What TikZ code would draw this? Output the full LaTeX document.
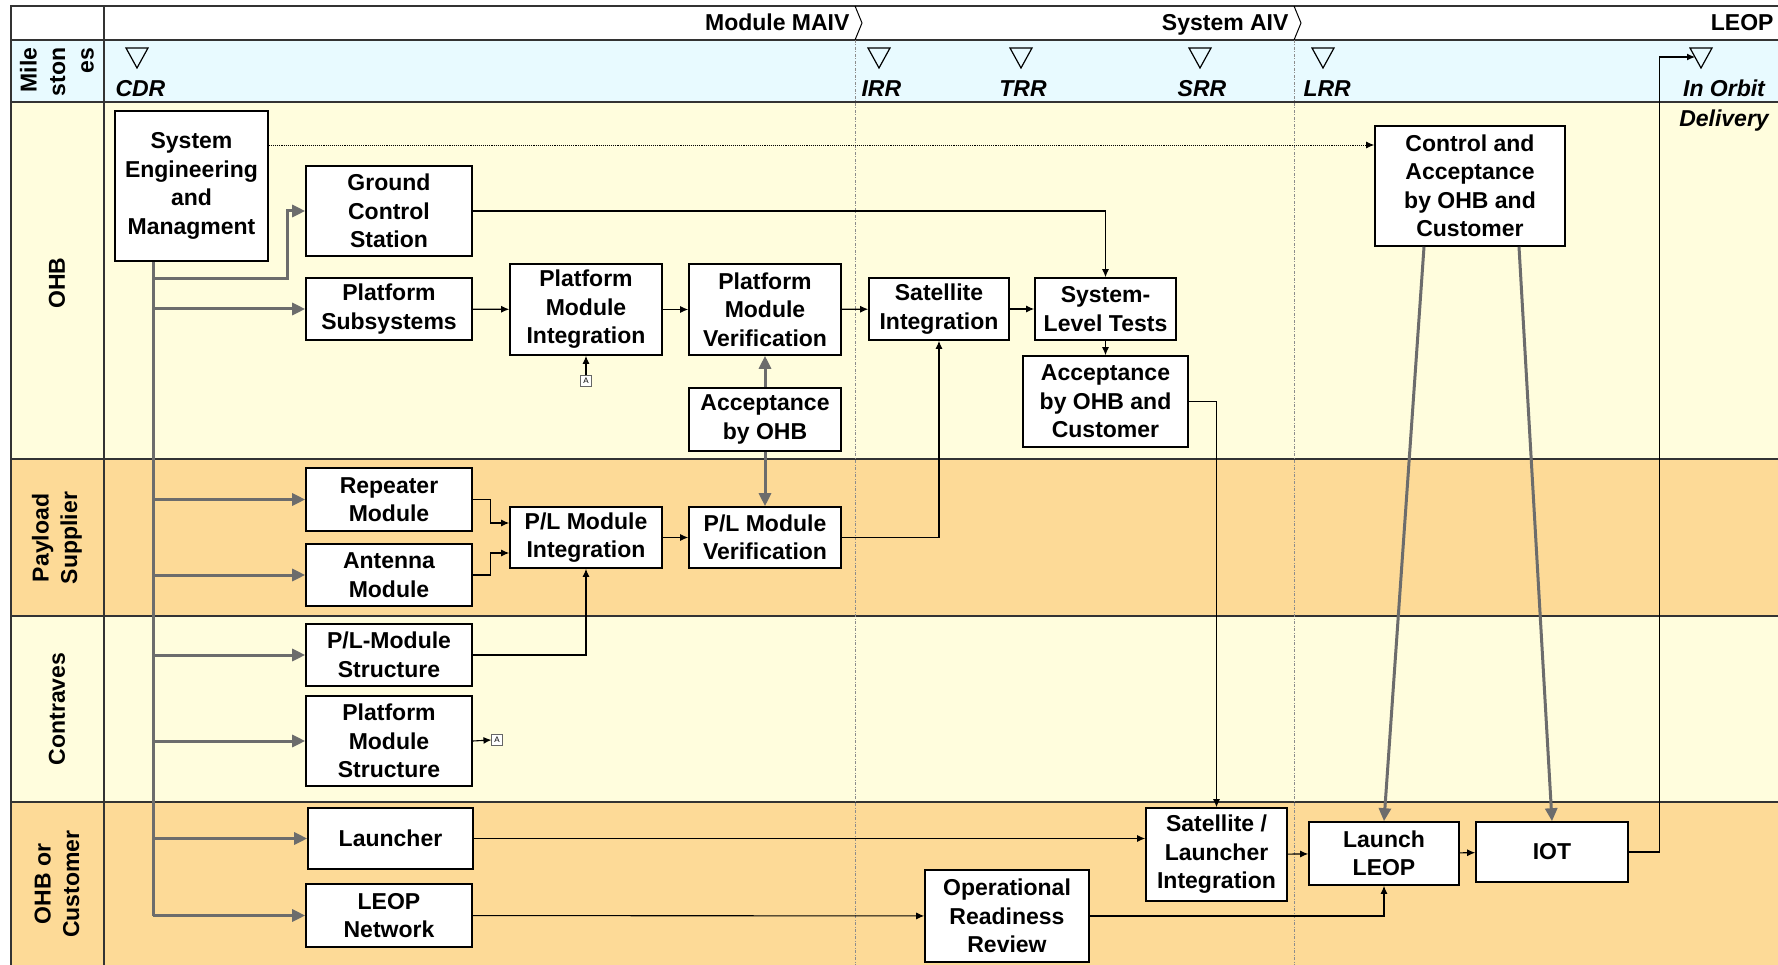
\documentclass[tikz,border=0pt]{standalone}
\usepackage{fontspec}
\setmainfont{Liberation Sans}
\usetikzlibrary{arrows.meta,calc}
\definecolor{laneyellow}{RGB}{255,253,221}
\definecolor{laneorange}{RGB}{253,218,151}
\definecolor{milecyan}{RGB}{232,250,255}
\definecolor{feedgray}{RGB}{108,108,108}
\tikzset{
  task/.style={draw=black, line width=1.6pt, fill=white, align=center, inner sep=0pt},
  sz/.style 2 args={minimum width=#1pt, minimum height=#2pt},
  flow/.style={-{Latex[length=8pt,width=7pt]}, line width=1.1pt},
  feed/.style={-{Triangle[length=13pt,width=12pt]}, line width=3pt, draw=feedgray},
  frame/.style={line width=1.5pt, draw=black!80},
  mstone/.style={font=\fontsize{23}{28.5}\selectfont\bfseries\itshape},
  refbox/.style={draw=black!60, fill=white, line width=0.8pt, inner sep=2.5pt, font=\fontsize{8}{8}\selectfont}
}
\begin{document}
\begin{tikzpicture}[x=1pt, y=-1pt, font=\fontsize{23}{28.5}\selectfont\bfseries]
\useasboundingbox (0,0) rectangle (1778,965);
%Lanes
\fill[white] (11,6) rectangle (1778,40);
\fill[milecyan] (11,40) rectangle (1778,102);
\fill[laneyellow] (11,102) rectangle (1778,459);
\fill[laneorange] (11,459) rectangle (1778,616);
\fill[laneyellow] (11,616) rectangle (1778,802);
\fill[laneorange] (11,802) rectangle (1778,965);
\draw[frame] (11,965) -- (11,6) -- (1778,6);
\foreach \y in {40,102,459,616,802} \draw[frame] (11,\y) -- (1778,\y);
\draw[frame] (104,6) -- (104,965);
\foreach \x in {855,1294} {
  \draw[black!45, line width=0.8pt, dash pattern=on 3pt off 1.5pt on 1pt off 1.5pt] (\x,40) -- (\x,965);
  \draw[line width=1pt] (\x,6) -- (\x+7,23) -- (\x,40);
}
%Phases
\node[anchor=base east] (maiv) at (853,31) {Module MAIV};
\node[anchor=base east] (aiv) at (1292,31) {System AIV};
\node[anchor=base east] (leoph) at (1777,31) {LEOP};
%Lane names
\node[rotate=90, align=right] (lmile) at (57,72) {Mile\\ston\\es};
\node[rotate=90] (lohb) at (57,283) {OHB};
\node[rotate=90, align=center] (lpay) at (57,538) {Payload\\Supplier};
\node[rotate=90] (lcon) at (57,709) {Contraves};
\node[rotate=90, align=center] (lcus) at (57,884) {OHB or\\Customer};
%Milestones
\foreach \x/\n in {137/cdr,879/irr,1021/trr,1200/srr,1323/lrr,1701/iod} {
  \coordinate (m-\n) at (\x,48);
  \draw[line width=1.2pt] (\x-11,48) -- (\x+11,48) -- (\x,68) -- cycle;
}
\node[mstone, anchor=base west] (tcdr) at (112,97) {CDR};
\node[mstone, anchor=base west] (tirr) at (858,97) {IRR};
\node[mstone, anchor=base] (ttrr) at (1023,97) {TRR};
\node[mstone, anchor=base] (tsrr) at (1202,97) {SRR};
\node[mstone, anchor=base west] (tlrr) at (1300,97) {LRR};
\node[mstone, anchor=base] (tiorb) at (1724,97) {In Orbit};
\node[mstone, anchor=base] (tidel) at (1724,127) {Delivery};
%Tasks
\node[task, sz={153}{150}] (se) at (191.5,186) {System\\Engineering\\and\\Managment};
\node[task, sz={166}{90}] (gcs) at (389,211) {Ground\\Control\\Station};
\node[task, sz={166}{62}] (ps) at (389,309) {Platform\\Subsystems};
\node[task, sz={152}{91}] (pmi) at (586,309.5) {Platform\\Module\\Integration};
\node[task, sz={152}{91}] (pmv) at (765,309.5) {Platform\\Module\\Verification};
\node[task, sz={152}{63}] (acc) at (765,419.5) {Acceptance\\by OHB};
\node[task, sz={140}{62}] (sat) at (939,309) {Satellite\\Integration};
\node[task, sz={141}{62}] (slt) at (1105.5,309) {System-\\Level Tests};
\node[task, sz={165}{91}] (acc2) at (1105.5,401.5) {Acceptance\\by OHB and\\Customer};
\node[task, sz={190}{120}] (ctrl) at (1470,186) {Control and\\Acceptance\\by OHB and\\Customer};
\node[task, sz={166}{63}] (rep) at (389,499.5) {Repeater\\Module};
\node[task, sz={166}{62}] (ant) at (389,575) {Antenna\\Module};
\node[task, sz={152}{61}] (plmi) at (586,537.5) {P/L Module\\Integration};
\node[task, sz={152}{61}] (plmv) at (765,537.5) {P/L Module\\Verification};
\node[task, sz={166}{62}] (pls) at (389,655) {P/L-Module\\Structure};
\node[task, sz={166}{90}] (pms) at (389,741) {Platform\\Module\\Structure};
\node[task, sz={165}{61}] (lau) at (390.5,838.5) {Launcher};
\node[task, sz={166}{63}] (lnet) at (389,915.5) {LEOP\\Network};
\node[task, sz={164}{92}] (orr) at (1007,916) {Operational\\Readiness\\Review};
\node[task, sz={141}{93}] (sli) at (1216.5,854.5) {Satellite /\\Launcher\\Integration};
\node[task, sz={150}{63}] (leop) at (1384,853.5) {Launch\\LEOP};
\node[task, sz={152}{60}] (iot) at (1552,852) {IOT};
\node[refbox] (ref1) at (586,381) {A};
\node[refbox] (ref2) at (497,740) {A};
%Feeds from system engineering
\coordinate (tk) at (153,279);
\draw[line width=3pt, feedgray] (se.south -| tk) -- (tk |- lnet.west);
\draw[feed] (tk) -- (287,279) |- (gcs.west);
\foreach \n in {ps,rep,ant,pls,pms,lau,lnet} \draw[feed] (tk |- \n.west) -- (\n.west);
\draw[feed] (acc.north) -- (pmv.south);
\draw[feed] (acc.south) -- (plmv.north);
\draw[feed] ([xshift=-46pt]ctrl.south) -- (leop.north);
\draw[feed] ([xshift=49pt]ctrl.south) -- (iot.north);
%Flow
\draw[flow] (ps) -- (pmi);
\draw[flow] (pmi) -- (pmv);
\draw[flow] (pmv) -- (sat);
\draw[flow] (sat) -- (slt);
\draw[flow] (gcs.east) -| (slt.north);
\draw[flow] (slt) -- (acc2);
\draw[flow] (acc2.east) -| (sli.north);
\draw[flow] (rep.east) -- ++(18,0) |- ($(plmi.west)+(0,-14.5)$);
\draw[flow] (ant.east) -- ++(18,0) |- ($(plmi.west)+(0,15.5)$);
\draw[flow] (plmi) -- (plmv);
\draw[flow] (plmv.east) -| (sat.south);
\draw[flow] (pls.east) -| (plmi.south);
\draw[flow] (ref1.north) -- (pmi.south);
\draw[flow] (pms.east) -- (ref2.west);
\draw[flow] (lau.east) -- (lau.east -| sli.west);
\draw[flow] (lnet) -- (orr);
\draw[flow] (orr.east) -| (leop.south);
\draw[flow] (sli) -- (leop);
\draw[flow] (leop) -- (iot);
\coordinate (iodin) at ($(m-iod)+(-6,9)$);
\draw[flow] (iot.east) -- ++(31,0) |- (iodin);
\coordinate (sed) at ($(se.east)+(0,-41)$);
\draw[flow, densely dotted, line width=0.9pt] (sed) -- (sed -| ctrl.west);
\end{tikzpicture}
\end{document}
